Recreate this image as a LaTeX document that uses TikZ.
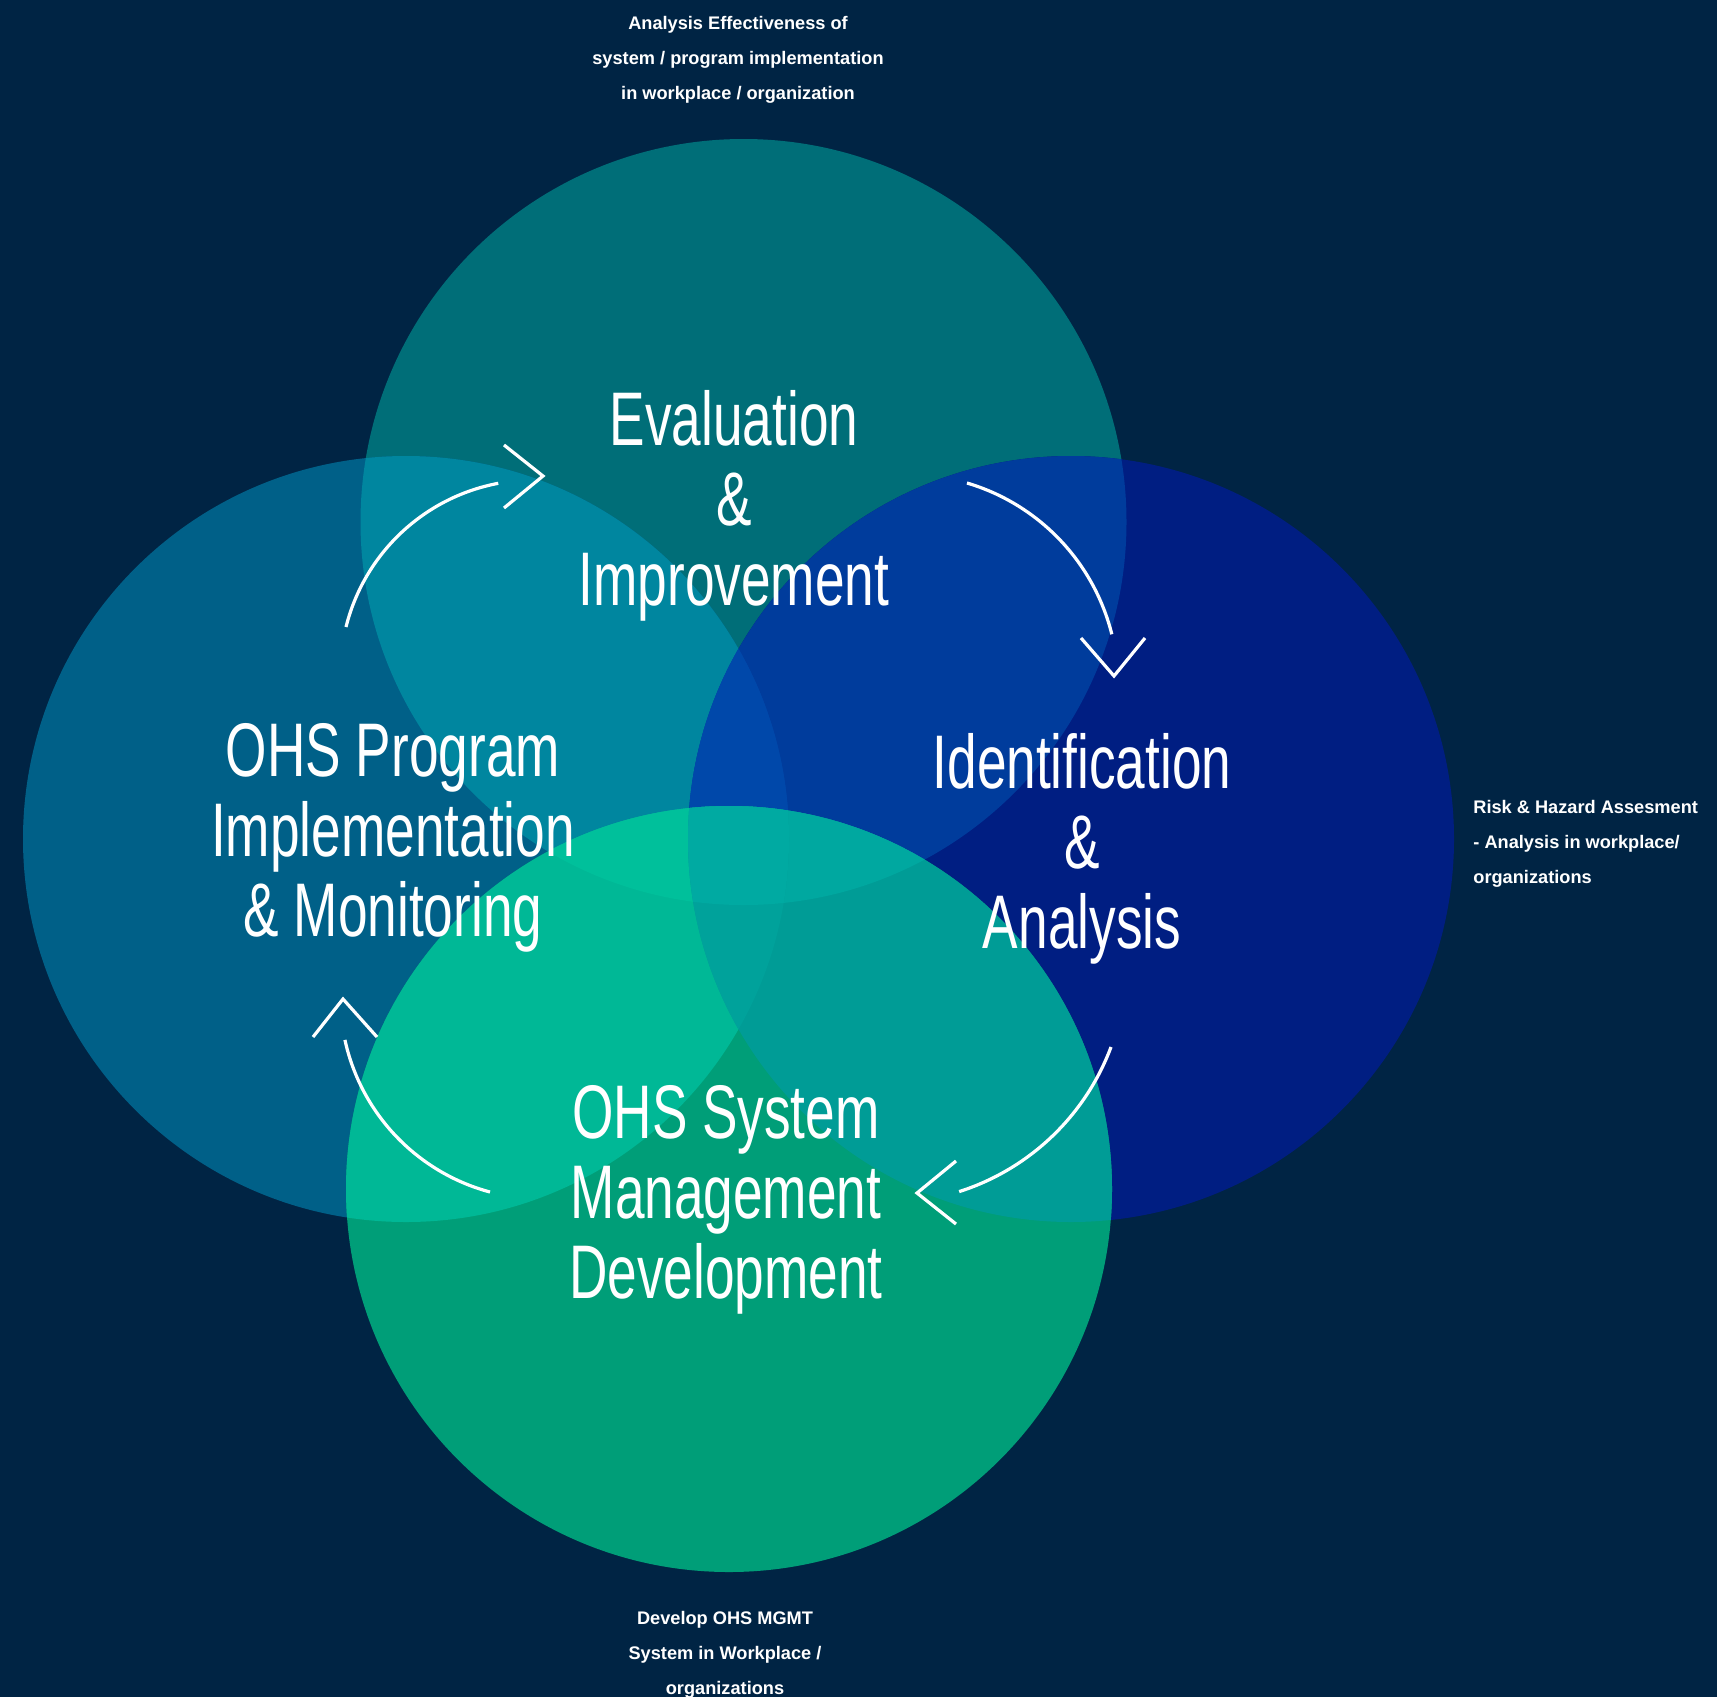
\documentclass[tikz,border=0pt]{standalone}
\usepackage{fontspec}
\newfontfamily\condfont[FakeStretch=0.70]{Liberation Sans}
\newfontfamily\smallfont{Liberation Sans}
\definecolor{bgc}{HTML}{002444}
\definecolor{cT}{HTML}{006E78}
\definecolor{cL}{HTML}{006088}
\definecolor{cR}{HTML}{001E82}
\definecolor{cB}{HTML}{009E78}
\definecolor{cTL}{HTML}{00869F}
\definecolor{cTR}{HTML}{003C9C}
\definecolor{cTB}{HTML}{00AAA0}
\definecolor{cLR}{HTML}{0048AA}
\definecolor{cLB}{HTML}{00B896}
\definecolor{cRB}{HTML}{009C96}
\definecolor{cTLR}{HTML}{0048AA}
\definecolor{cTLB}{HTML}{00C09B}
\definecolor{cTRB}{HTML}{00A8A0}
\definecolor{cLRB}{HTML}{00A29B}
\definecolor{cQ}{HTML}{00AAA2}
\tikzset{
  bigtxt/.style={text=white, font=\condfont\fontsize{38}{40}\selectfont, align=center, inner sep=0pt},
  smalltxt/.style={text=white, font=\smallfont\bfseries\fontsize{9.1}{17.5}\selectfont, inner sep=0pt},
  arrowline/.style={draw=white, line width=1.6pt, line join=miter}
}
\begin{document}
\begin{tikzpicture}[x=0.5pt,y=-0.5pt]
\def\R{383}
\useasboundingbox (0,0) rectangle (1717,1697);
\fill[bgc] (0,0) rectangle (1717,1697);
\coordinate (cT) at (743.5,522);
\coordinate (cL) at (406,839);
\coordinate (cR) at (1071,839);
\coordinate (cB) at (729,1189);
% single circles
\fill[cT] (cT) circle[radius=\R];
\fill[cL] (cL) circle[radius=\R];
\fill[cR] (cR) circle[radius=\R];
\fill[cB] (cB) circle[radius=\R];
% pair overlaps
\begin{scope}\clip (cT) circle[radius=\R]; \fill[cTL] (cL) circle[radius=\R];\end{scope}
\begin{scope}\clip (cT) circle[radius=\R]; \fill[cTR] (cR) circle[radius=\R];\end{scope}
\begin{scope}\clip (cT) circle[radius=\R]; \fill[cTB] (cB) circle[radius=\R];\end{scope}
\begin{scope}\clip (cL) circle[radius=\R]; \fill[cLR] (cR) circle[radius=\R];\end{scope}
\begin{scope}\clip (cL) circle[radius=\R]; \fill[cLB] (cB) circle[radius=\R];\end{scope}
\begin{scope}\clip (cR) circle[radius=\R]; \fill[cRB] (cB) circle[radius=\R];\end{scope}
% triple overlaps
\begin{scope}\clip (cT) circle[radius=\R]; \clip (cL) circle[radius=\R]; \fill[cTLR] (cR) circle[radius=\R];\end{scope}
\begin{scope}\clip (cT) circle[radius=\R]; \clip (cL) circle[radius=\R]; \fill[cTLB] (cB) circle[radius=\R];\end{scope}
\begin{scope}\clip (cT) circle[radius=\R]; \clip (cR) circle[radius=\R]; \fill[cTRB] (cB) circle[radius=\R];\end{scope}
\begin{scope}\clip (cL) circle[radius=\R]; \clip (cR) circle[radius=\R]; \fill[cLRB] (cB) circle[radius=\R];\end{scope}
% quadruple overlap
\begin{scope}\clip (cT) circle[radius=\R]; \clip (cL) circle[radius=\R]; \clip (cR) circle[radius=\R]; \fill[cQ] (cB) circle[radius=\R];\end{scope}

% main labels
\node[bigtxt] (eval) at (734,506) {Evaluation\\\&\\Improvement};
\node[bigtxt] (ident) at (1082,849) {Identification\\\&\\Analysis};
\node[bigtxt] (prog) at (393,838) {OHS Program\\Implementation\\\& Monitoring};
\node[bigtxt] (sys) at (726,1200) {OHS System\\Management\\Development};

% small notes
\node[smalltxt, align=center] (ntop) at (738,60) {Analysis Effectiveness of\\system / program implementation\\in workplace / organization};
\node[smalltxt, align=left, anchor=west] (nright) at (1473,844) {Risk \& Hazard Assesment\\- Analysis in workplace/\\organizations};
\node[smalltxt, align=center] (nbot) at (725,1655) {Develop OHS MGMT\\System in Workplace /\\organizations};

% cycle arcs
\coordinate (a1) at (346,627);
\coordinate (a2) at (967,483);
\coordinate (a3) at (1111,1047);
\coordinate (a4) at (490,1192);
\draw[arrowline] (a1) arc[start angle=194, end angle=259.3, radius=194];
\draw[arrowline] (a2) arc[start angle=286.5, end angle=346, radius=211];
\draw[arrowline] (a3) arc[start angle=20.5, end angle=72.3, radius=240];
\draw[arrowline] (a4) arc[start angle=105, end angle=167.7, radius=202];

% chevron heads
\coordinate (h1) at (543,476);
\coordinate (h2) at (1114,676);
\coordinate (h3) at (917,1193);
\coordinate (h4) at (343,999);
\draw[arrowline] (h1) ++(-39,-31) -- (h1) -- ++(-39,32);
\draw[arrowline] (h2) ++(-33,-38) -- (h2) -- ++(31,-38);
\draw[arrowline] (h3) ++(39,-32) -- (h3) -- ++(39,31);
\draw[arrowline] (h4) ++(-30,38) -- (h4) -- ++(34,38);
\end{tikzpicture}
\end{document}
